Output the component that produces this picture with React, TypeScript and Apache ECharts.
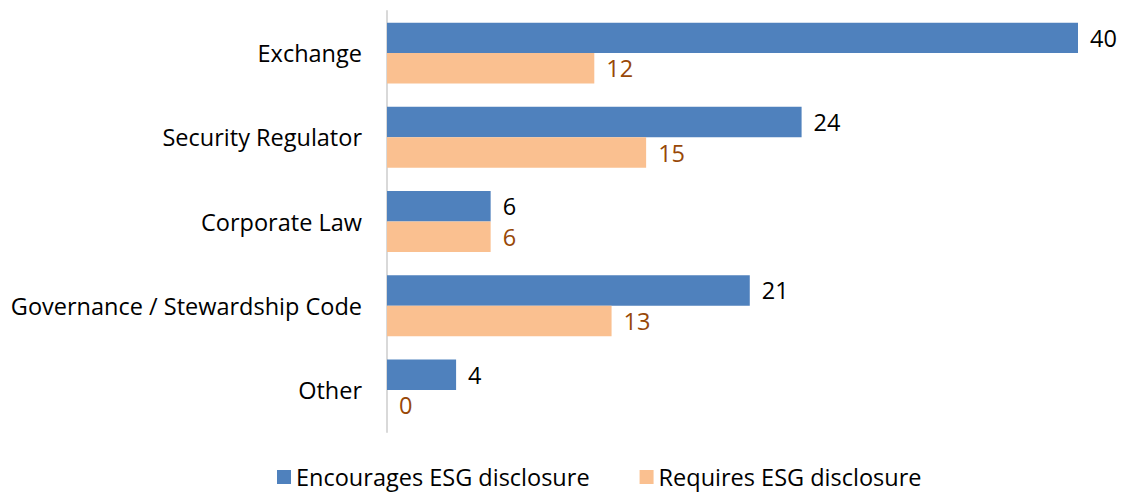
import React, { useEffect, useRef } from "react";
import * as echarts from "echarts";

const categories = [
  "Exchange",
  "Security Regulator",
  "Corporate Law",
  "Governance / Stewardship Code",
  "Other",
];
const encourages = [40, 24, 6, 21, 4];
const requires = [12, 15, 6, 13, 0];
const seriesNames = ["Encourages ESG disclosure", "Requires ESG disclosure"];

const FONT = "Open Sans";
const FS = 23.5;

export default function App() {
  const ref = useRef<HTMLDivElement>(null);
  useEffect(() => {
    document.body.style.margin = "0";
    const chart = echarts.init(ref.current!, null, { renderer: "svg" });
    chart.setOption({
      animation: false,
      textStyle: { fontFamily: FONT },
      grid: { left: 387, top: 11, width: 691, height: 421, containLabel: false },
      legend: {
        top: 465,
        left: 277,
        padding: 0,
        itemWidth: 14,
        itemHeight: 14,
        itemGap: 50,
        icon: "rect",
        textStyle: { fontFamily: FONT, fontSize: FS, color: "#000" },
        data: seriesNames,
      },
      xAxis: {
        type: "value",
        min: 0,
        max: 40,
        show: false,
        splitLine: { show: false },
      },
      yAxis: {
        type: "category",
        data: categories,
        inverse: true,
        axisLine: { show: true, lineStyle: { color: "#d9d9d9", width: 2 } },
        axisTick: { show: false },
        axisLabel: { fontFamily: FONT, fontSize: FS, color: "#000", margin: 25 },
      },
      series: [
        {
          name: seriesNames[0],
          type: "bar",
          data: encourages,
          barGap: "0%",
          barCategoryGap: "27.7%",
          itemStyle: { color: "#4F81BD" },
          label: {
            show: true,
            position: "right",
            distance: 12,
            fontFamily: FONT,
            fontSize: FS,
            color: "#000",
          },
        },
        {
          name: seriesNames[1],
          type: "bar",
          data: requires,
          barGap: "0%",
          barCategoryGap: "27.7%",
          itemStyle: { color: "#FAC090" },
          label: {
            show: true,
            position: "right",
            distance: 12,
            fontFamily: FONT,
            fontSize: FS,
            color: "#984807",
          },
        },
      ],
    });
    return () => chart.dispose();
  }, []);
  return <div ref={ref} style={{ width: 1123, height: 492 }} />;
}
